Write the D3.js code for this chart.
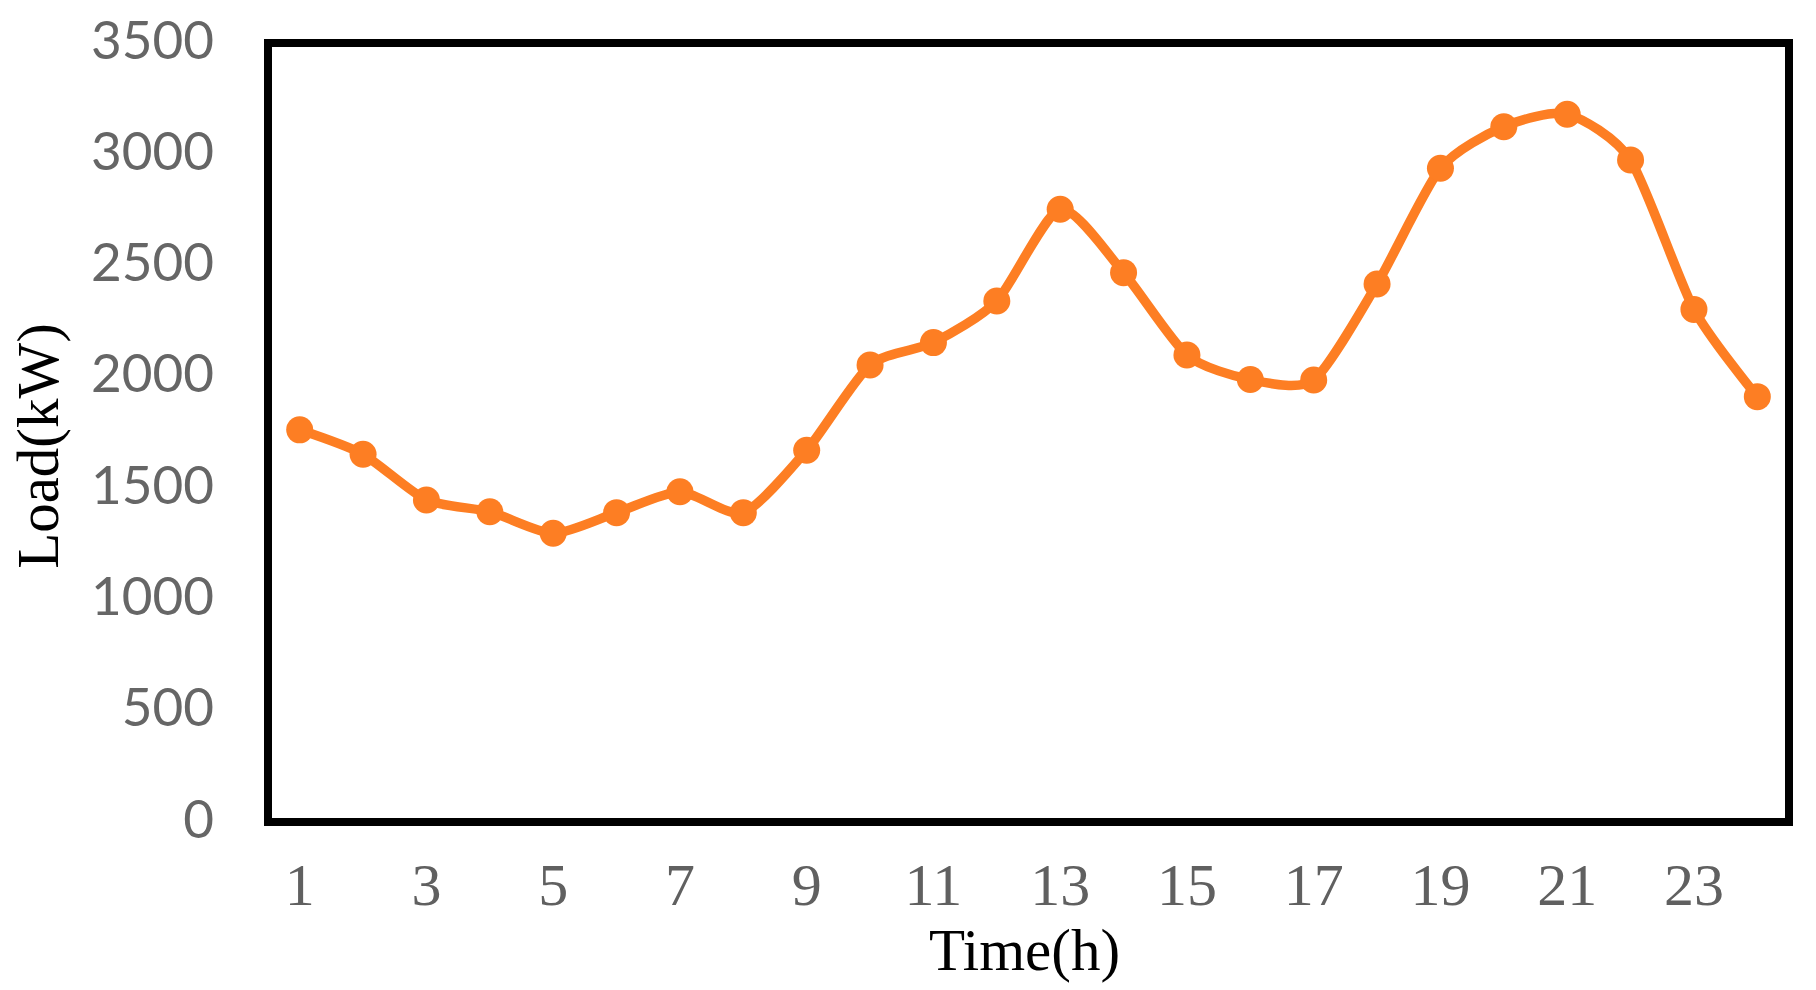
<!DOCTYPE html>
<html>
<head>
<meta charset="utf-8">
<script src="https://cdn.jsdelivr.net/npm/d3@7"></script>
<style>
  html, body { margin: 0; padding: 0; background: #ffffff; }
  svg { display: block; }
</style>
</head>
<body>
<svg id="chart" width="1816" height="990"></svg>
<script>
// ---- data ----
const hours = [1,2,3,4,5,6,7,8,9,10,11,12,13,14,15,16,17,18,19,20,21,22,23,24];
const load = [1762,1652,1447,1394,1297,1390,1484,1390,1670,2053,2154,2341,2753,2468,2098,1988,1986,2417,2937,3124,3180,2974,2303,1911];
const yTicks = [0,500,1000,1500,2000,2500,3000,3500];
const xTickLabels = [1,3,5,7,9,11,13,15,17,19,21,23];
const xTitle = "Time(h)";
const yTitle = "Load(kW)";

// ---- layout ----
const L = 268, R = 1789, T = 43, B = 822;
const svg = d3.select("#chart");

const x = d3.scaleBand().domain(hours).range([L, R]).padding(0);
const y = d3.scaleLinear().domain([0, 3500]).range([B, T]);

// y axis labels
const yAxis = d3.axisLeft(y).tickValues(yTicks).tickSize(0).tickPadding(0).tickFormat(d3.format("d"));
const gy = svg.append("g").attr("transform", `translate(214,-4)`).call(yAxis);
gy.select(".domain").remove();
gy.selectAll("text")
  .attr("fill", "#666666")
  .attr("font-family", "Lato, 'Liberation Sans', sans-serif")
  .attr("font-size", 53)
  .attr("dy", "0.36em");

// x axis labels
const xAxis = d3.axisBottom(x).tickValues(xTickLabels).tickSize(0).tickPadding(0);
const gx = svg.append("g").attr("transform", `translate(0,905)`).call(xAxis);
gx.select(".domain").remove();
gx.selectAll("text")
  .attr("fill", "#606060")
  .attr("font-family", "'Liberation Serif', 'Times New Roman', serif")
  .attr("font-size", 60)
  .attr("dy", 0)
  .attr("y", 0);

// frame
svg.append("rect")
  .attr("x", L).attr("y", T)
  .attr("width", R - L).attr("height", B - T)
  .attr("fill", "none").attr("stroke", "#000").attr("stroke-width", 8);

// line
const color = "#fd7e23";
const line = d3.line()
  .x((d, i) => x(hours[i]) + x.bandwidth() / 2)
  .y(d => y(d))
  .curve(d3.curveCardinal.tension(0.3));

svg.append("path")
  .datum(load)
  .attr("d", line)
  .attr("fill", "none")
  .attr("stroke", color)
  .attr("stroke-width", 9.5)
  .attr("stroke-linejoin", "round")
  .attr("stroke-linecap", "round");

svg.append("g").selectAll("circle")
  .data(load)
  .join("circle")
  .attr("cx", (d, i) => x(hours[i]) + x.bandwidth() / 2)
  .attr("cy", d => y(d))
  .attr("r", 13.5)
  .attr("fill", color);

// titles
svg.append("text")
  .attr("x", (L + R) / 2 - 4).attr("y", 970)
  .attr("text-anchor", "middle")
  .attr("font-family", "'Liberation Serif', 'Times New Roman', serif")
  .attr("font-size", 59)
  .attr("fill", "#000")
  .text(xTitle);

svg.append("text")
  .attr("transform", `translate(58,446) rotate(-90)`)
  .attr("text-anchor", "middle")
  .attr("font-family", "'Liberation Serif', 'Times New Roman', serif")
  .attr("font-size", 59)
  .attr("fill", "#000")
  .text(yTitle);
</script>
</body>
</html>
